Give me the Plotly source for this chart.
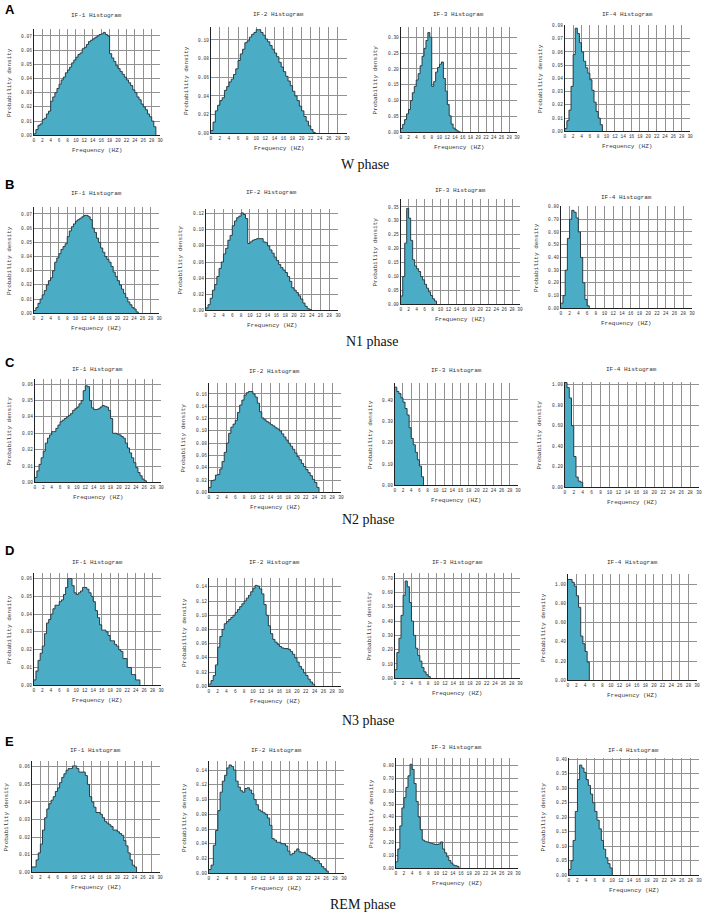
import plotly.graph_objects as go

W, H = 708, 918
BIN_WIDTH = 0.5
X_TICKS = list(range(0, 31, 2))

# ---------------- data (probability density per 0.5 Hz bin, starting at 0 Hz) ----------------
w_if1 = [0.001,0.004,0.007,0.008,0.011,0.012,0.015,0.017,0.024,0.027,
         0.030,0.033,0.036,0.039,0.041,0.044,0.046,0.048,0.051,0.053,
         0.055,0.057,0.058,0.061,0.062,0.064,0.066,0.067,0.068,0.069,
         0.070,0.071,0.0715,0.0725,0.071,0.070,0.0575,0.0545,0.052,0.049,
         0.047,0.045,0.043,0.041,0.039,0.037,0.035,0.032,0.030,0.027,
         0.025,0.022,0.020,0.018,0.015,0.013,0.010,0.006]
w_if2 = [0.003,0.012,0.024,0.030,0.035,0.038,0.046,0.050,0.055,0.058,
         0.063,0.069,0.078,0.085,0.090,0.097,0.099,0.103,0.106,0.108,
         0.111,0.111,0.108,0.105,0.101,0.098,0.094,0.090,0.086,0.082,
         0.076,0.071,0.066,0.061,0.056,0.051,0.045,0.040,0.035,0.029,
         0.024,0.018,0.013,0.008,0.004,0.001]
w_if3 = [0.012,0.025,0.040,0.058,0.072,0.100,0.125,0.145,0.165,0.185,
         0.210,0.240,0.265,0.290,0.315,0.300,0.145,0.160,0.190,0.205,
         0.215,0.222,0.170,0.130,0.088,0.052,0.026,0.013,0.008,0.004,0.001]
w_if4 = [0.002,0.008,0.016,0.034,0.058,0.078,0.074,0.067,0.060,0.053,
         0.048,0.044,0.039,0.031,0.022,0.015,0.010,0.005]

n1_if1 = [0.002,0.004,0.007,0.010,0.013,0.016,0.020,0.023,0.025,0.030,
          0.036,0.039,0.042,0.045,0.047,0.049,0.054,0.058,0.061,0.063,
          0.065,0.066,0.067,0.068,0.069,0.069,0.068,0.066,0.060,0.057,
          0.053,0.050,0.046,0.043,0.040,0.038,0.036,0.033,0.029,0.026,
          0.023,0.020,0.017,0.014,0.011,0.008,0.006,0.004,0.003,0.001]
n1_if2 = [0.003,0.007,0.015,0.025,0.032,0.042,0.052,0.060,0.070,0.077,
          0.087,0.093,0.105,0.111,0.115,0.117,0.121,0.119,0.114,0.083,
          0.085,0.087,0.088,0.089,0.089,0.089,0.085,0.084,0.080,0.075,
          0.071,0.066,0.062,0.057,0.053,0.050,0.047,0.042,0.036,0.028,
          0.025,0.022,0.018,0.014,0.009,0.005,0.002,0.001]
n1_if3 = [0.03,0.10,0.22,0.345,0.31,0.23,0.16,0.138,0.128,0.118,
          0.10,0.088,0.072,0.058,0.045,0.032,0.02,0.012]
n1_if4 = [0.04,0.10,0.30,0.55,0.70,0.77,0.755,0.71,0.60,0.40,0.20,0.07,0.02]

n2_if1 = [0.003,0.007,0.011,0.015,0.019,0.024,0.027,0.029,0.031,0.031,
          0.033,0.035,0.037,0.038,0.039,0.040,0.041,0.042,0.044,0.045,
          0.046,0.048,0.050,0.056,0.059,0.0585,0.050,0.0455,0.0445,0.0445,
          0.045,0.046,0.047,0.0465,0.046,0.044,0.039,0.030,0.030,0.0295,
          0.029,0.028,0.027,0.024,0.021,0.018,0.015,0.012,0.009,0.006,
          0.004,0.002,0.001]
n2_if2 = [0.008,0.019,0.020,0.028,0.029,0.038,0.050,0.065,0.080,0.096,
          0.106,0.111,0.117,0.130,0.142,0.150,0.158,0.162,0.164,0.164,
          0.160,0.155,0.145,0.131,0.121,0.118,0.115,0.113,0.110,0.108,
          0.105,0.103,0.100,0.095,0.090,0.085,0.080,0.075,0.070,0.064,
          0.058,0.053,0.047,0.042,0.037,0.032,0.027,0.021,0.016,0.008]
n2_if3 = [0.46,0.44,0.43,0.41,0.39,0.36,0.33,0.27,0.22,0.19,0.155,0.12,0.09,0.04]
n2_if4 = [1.02,0.97,0.87,0.60,0.30,0.10,0.06,0.05]

n3_if1 = [0.003,0.008,0.014,0.018,0.022,0.029,0.035,0.037,0.040,0.043,
          0.045,0.045,0.047,0.048,0.051,0.055,0.060,0.060,0.056,0.052,
          0.051,0.052,0.053,0.055,0.055,0.054,0.052,0.050,0.047,0.042,
          0.038,0.034,0.031,0.031,0.030,0.028,0.025,0.025,0.023,0.022,
          0.020,0.019,0.015,0.015,0.010,0.010,0.006,0.006,0.003,0.003]
n3_if2 = [0.003,0.008,0.015,0.030,0.055,0.070,0.080,0.088,0.091,0.094,
          0.097,0.100,0.104,0.108,0.112,0.116,0.120,0.124,0.128,0.133,
          0.138,0.142,0.141,0.137,0.130,0.115,0.100,0.085,0.074,0.066,
          0.062,0.059,0.056,0.054,0.053,0.053,0.052,0.049,0.045,0.040,
          0.034,0.028,0.024,0.019,0.015,0.010,0.006,0.003]
n3_if3 = [0.06,0.18,0.28,0.44,0.58,0.68,0.64,0.53,0.40,0.30,
          0.21,0.16,0.12,0.075,0.045,0.025,0.012]
n3_if4 = [1.05,1.05,1.02,0.98,0.88,0.76,0.46,0.38,0.30,0.19]

rem_if1 = [0.003,0.003,0.007,0.011,0.016,0.024,0.031,0.036,0.039,0.041,
           0.043,0.046,0.048,0.051,0.054,0.056,0.058,0.059,0.059,0.0605,
           0.0605,0.059,0.057,0.057,0.057,0.055,0.050,0.043,0.040,0.037,
           0.034,0.034,0.033,0.031,0.029,0.028,0.027,0.026,0.024,0.024,
           0.023,0.022,0.021,0.018,0.015,0.011,0.007,0.004,0.003]
rem_if2 = [0.005,0.011,0.038,0.058,0.085,0.110,0.125,0.133,0.143,0.147,
           0.145,0.140,0.125,0.117,0.112,0.110,0.115,0.116,0.113,0.108,
           0.100,0.093,0.086,0.084,0.082,0.080,0.075,0.065,0.047,0.045,
           0.042,0.042,0.040,0.040,0.037,0.030,0.025,0.027,0.030,0.033,
           0.029,0.028,0.028,0.026,0.024,0.022,0.020,0.017,0.017,0.013,
           0.009,0.006,0.003]
rem_if3 = [0.05,0.15,0.33,0.47,0.55,0.63,0.72,0.81,0.77,0.66,
           0.52,0.40,0.30,0.22,0.21,0.205,0.20,0.195,0.19,0.185,
           0.185,0.19,0.205,0.15,0.12,0.09,0.06,0.04,0.025,0.02,0.015]
rem_if4 = [0.02,0.05,0.12,0.22,0.33,0.38,0.37,0.355,0.33,0.31,
           0.28,0.25,0.22,0.19,0.16,0.12,0.09,0.06,0.04,0.025]

phase_labels = ["W phase", "N1 phase", "N2 phase", "N3 phase", "REM phase"]
panel_letters = ["A", "B", "C", "D", "E"]
panel_titles = ["IF-1 Histogram", "IF-2 Histogram", "IF-3 Histogram", "IF-4 Histogram"]

series = [
    [w_if1, w_if2, w_if3, w_if4],
    [n1_if1, n1_if2, n1_if3, n1_if4],
    [n2_if1, n2_if2, n2_if3, n2_if4],
    [n3_if1, n3_if2, n3_if3, n3_if4],
    [rem_if1, rem_if2, rem_if3, rem_if4],
]
y_dtick = [
    [0.01, 0.02, 0.05, 0.01],
    [0.01, 0.02, 0.05, 0.10],
    [0.01, 0.02, 0.10, 0.20],
    [0.01, 0.02, 0.10, 0.20],
    [0.01, 0.02, 0.10, 0.05],
]
y_top = [
    [0.075, 0.114, 0.333, 0.0805],
    [0.075, 0.126, 0.379, 0.805],
    [0.0632, 0.178, 0.48, 1.026],
    [0.0632, 0.1526, 0.737, 1.108],
    [0.0634, 0.1526, 0.86, 0.405],
]

# ---------------- layout geometry (pixels) ----------------
boxes = [  # left, right, top, bottom
    [(33, 160, 27, 134), (211, 348, 25, 132), (402, 519, 25, 131), (567, 693, 23, 130)],
    [(33, 159, 206, 313), (206, 339, 208, 310), (402, 522, 198, 304), (563, 695, 205, 308)],
    [(34, 161, 379, 483), (209, 342, 383, 493), (396, 520, 383, 486), (567, 702, 382, 488)],
    [(33, 161, 574, 687), (209, 342, 579, 688), (396, 522, 574, 680), (570, 700, 575, 682)],
    [(31, 160, 763, 875), (209, 345, 763, 876), (397, 520, 760, 871), (571, 702, 760, 878)],
]
title_y = [[14, 13, 13, 13], [193, 192, 190, 197], [370, 372, 371, 370],
           [564, 564, 564, 564], [753, 753, 750, 753]]
phase_pos = [(366, 163), (374, 341), (370, 520), (370, 722), (364, 907)]
letter_y = [8, 184, 362, 552, 744]

FILL = "#4BACC6"
EDGE = "#2b3d44"
GRID = "#929292"
TXT = "#333333"
MONO = "Liberation Mono"

def px(x):
    return x / W

def py(y):
    return 1 - y / H

fig = go.Figure()
annotations = []
layout = {}

for r in range(5):
    for c in range(4):
        idx = r * 4 + c + 1
        vals = series[r][c]
        edges = [i * BIN_WIDTH for i in range(len(vals) + 1)]
        ys = list(vals) + [0.0]
        xname = "x" if idx == 1 else f"x{idx}"
        yname = "y" if idx == 1 else f"y{idx}"
        fig.add_trace(go.Scatter(
            x=edges, y=ys, mode="lines", line_shape="hv",
            line=dict(color=EDGE, width=1), fill="tozeroy", fillcolor=FILL,
            xaxis=xname, yaxis=yname, showlegend=False, hoverinfo="skip"))
        l, rr, t, b = boxes[r][c]
        layout[f"xaxis{idx}"] = dict(
            domain=[px(l), px(rr)], anchor=yname, range=[0, 30],
            tickmode="array", tickvals=X_TICKS, ticktext=[str(v) for v in X_TICKS],
            showgrid=True, gridcolor=GRID, gridwidth=1, zeroline=False,
            showline=True, linecolor="#222222", linewidth=1, ticks="",
            ticklabeloverflow="allow",
            tickfont=dict(family=MONO, size=4.5, color=TXT), fixedrange=True)
        layout[f"yaxis{idx}"] = dict(
            domain=[py(b), py(t)], anchor=xname, range=[0, y_top[r][c]],
            tick0=0, dtick=y_dtick[r][c], tickformat=".2f",
            showgrid=True, gridcolor=GRID, gridwidth=1, zeroline=False,
            showline=True, linecolor="#222222", linewidth=1, ticks="",
            ticklabeloverflow="allow",
            tickfont=dict(family=MONO, size=4.5, color=TXT), fixedrange=True)
        cx = (l + rr) / 2
        annotations.append(dict(text=panel_titles[c], x=px(cx), y=py(title_y[r][c]),
                                xref="paper", yref="paper", showarrow=False,
                                xanchor="center", yanchor="middle",
                                font=dict(family=MONO, size=6, color=TXT)))
        annotations.append(dict(text="Frequency (HZ)", x=px(cx), y=py(b + 15),
                                xref="paper", yref="paper", showarrow=False,
                                xanchor="center", yanchor="middle",
                                font=dict(family=MONO, size=6, color=TXT)))
        annotations.append(dict(text="Probability density", x=px(l - 25), y=py((t + b) / 2),
                                xref="paper", yref="paper", showarrow=False, textangle=-90,
                                xanchor="center", yanchor="middle",
                                font=dict(family=MONO, size=6, color=TXT)))
    annotations.append(dict(text=phase_labels[r], x=px(phase_pos[r][0]), y=py(phase_pos[r][1]),
                            xref="paper", yref="paper", showarrow=False,
                            xanchor="center", yanchor="middle",
                            font=dict(family="Liberation Serif", size=14, color="#111111")))
    annotations.append(dict(text="<b>" + panel_letters[r] + "</b>", x=px(2), y=py(letter_y[r]),
                            xref="paper", yref="paper", showarrow=False,
                            xanchor="left", yanchor="middle",
                            font=dict(family="Liberation Sans", size=13, color="#000000")))

fig.update_layout(**layout)
fig.update_layout(width=W, height=H, margin=dict(l=0, r=0, t=0, b=0),
                  paper_bgcolor="white", plot_bgcolor="white",
                  annotations=annotations, showlegend=False)
fig.write_html("out.html", config={"displayModeBar": False},
               post_script="document.body.style.margin='0';document.body.style.padding='0';")
